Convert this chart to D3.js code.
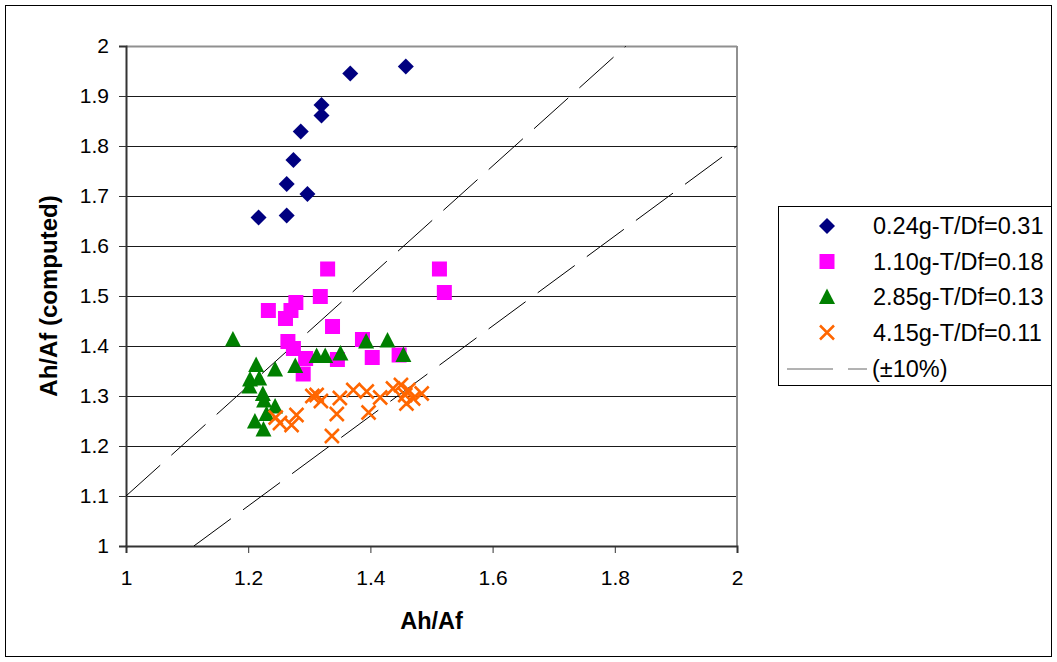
<!DOCTYPE html>
<html>
<head>
<meta charset="utf-8">
<script src="https://cdn.jsdelivr.net/npm/d3@7/dist/d3.min.js"></script>
<style>
  html, body { margin: 0; padding: 0; background: #fff; }
  svg { display: block; font-family: Arial, "Liberation Sans", sans-serif; }
</style>
</head>
<body>
<svg id="chart" width="1057" height="662"></svg>
<script>
// ---------------- data ----------------
const seriesNames = ["0.24g-T/Df=0.31", "1.10g-T/Df=0.18", "2.85g-T/Df=0.13", "4.15g-T/Df=0.11"];
const boundName = "(±10%)";

const s1x = [1.217, 1.263, 1.263, 1.274, 1.286, 1.297, 1.320, 1.320, 1.367, 1.458];
const s1y = [1.657, 1.661, 1.724, 1.772, 1.829, 1.704, 1.861, 1.882, 1.945, 1.959];

const s2x = [1.330, 1.513, 1.521, 1.318, 1.233, 1.278, 1.270, 1.261, 1.338, 1.265, 1.274, 1.294, 1.290, 1.346, 1.387, 1.403, 1.447];
const s2y = [1.554, 1.554, 1.507, 1.499, 1.471, 1.487, 1.471, 1.455, 1.439, 1.409, 1.395, 1.375, 1.344, 1.373, 1.413, 1.377, 1.382];

const s3x = [1.175, 1.213, 1.244, 1.277, 1.203, 1.218, 1.202, 1.224, 1.226, 1.244, 1.230, 1.211, 1.225, 1.312, 1.326, 1.351, 1.393, 1.428, 1.454];
const s3y = [1.413, 1.362, 1.353, 1.360, 1.333, 1.335, 1.319, 1.304, 1.291, 1.279, 1.264, 1.249, 1.233, 1.380, 1.380, 1.385, 1.409, 1.411, 1.382];

const s4x = [1.245, 1.252, 1.279, 1.271, 1.305, 1.312, 1.319, 1.337, 1.345, 1.350, 1.372, 1.394, 1.397, 1.416, 1.437, 1.450, 1.462, 1.459, 1.457, 1.470, 1.484];
const s4y = [1.257, 1.246, 1.262, 1.242, 1.300, 1.302, 1.290, 1.220, 1.264, 1.296, 1.312, 1.309, 1.267, 1.297, 1.315, 1.322, 1.312, 1.285, 1.302, 1.295, 1.305];

const boundFactors = [1.1, 0.9];
const xTicks = [1, 1.2, 1.4, 1.6, 1.8, 2];
const yTicks = [1, 1.1, 1.2, 1.3, 1.4, 1.5, 1.6, 1.7, 1.8, 1.9, 2];

// ---------------- layout ----------------
const svg = d3.select("#chart");
const plot = { left: 126, top: 46, right: 737, bottom: 546 };

const x = d3.scaleLinear().domain([1, 2]).range([plot.left, plot.right]);
const y = d3.scaleLinear().domain([1, 2]).range([plot.bottom, plot.top]);

// outer chart border
svg.append("rect").attr("x", 5.5).attr("y", 5.5).attr("width", 1046).attr("height", 651)
  .attr("fill", "#fff").attr("stroke", "#000").attr("stroke-width", 1);

// gridlines
svg.append("g").selectAll("line").data(yTicks.slice(1, -1)).join("line")
  .attr("x1", plot.left).attr("x2", plot.right)
  .attr("y1", d => Math.round(y(d)) + 0.5).attr("y2", d => Math.round(y(d)) + 0.5)
  .attr("stroke", "#1a1a1a").attr("stroke-width", 1);

// plot border (top/right gray)
svg.append("line").attr("x1", plot.left).attr("x2", plot.right).attr("y1", plot.top + 0.5).attr("y2", plot.top + 0.5)
  .attr("stroke", "#909090").attr("stroke-width", 2);
svg.append("line").attr("x1", plot.right).attr("x2", plot.right).attr("y1", plot.top).attr("y2", plot.bottom)
  .attr("stroke", "#909090").attr("stroke-width", 2);

// axes
const yAxis = d3.axisLeft(y).tickValues(yTicks).tickSize(7).tickPadding(10).tickFormat(d3.format("~g"));
const xAxis = d3.axisBottom(x).tickValues(xTicks).tickSize(7).tickPadding(17).tickFormat(d3.format("~g"));

const gy = svg.append("g").attr("transform", `translate(${plot.left},0)`).call(yAxis);
const gx = svg.append("g").attr("transform", `translate(0,${plot.bottom})`).call(xAxis);
[gx, gy].forEach(g => {
  g.select(".domain").attr("stroke", "#333").attr("stroke-width", 2);
  g.selectAll(".tick line").attr("stroke", "#333").attr("stroke-width", 1);
  g.selectAll(".tick text").attr("fill", "#000").style("font-size", "21px")
    .style("font-family", "Arial, 'Liberation Sans', sans-serif");
});

// axis titles
svg.append("text").attr("x", (plot.left + plot.right) / 2).attr("y", 629)
  .attr("text-anchor", "middle").style("font-size", "23.5px").style("font-weight", "bold").text("Ah/Af");
svg.append("text").attr("transform", `translate(57,${(plot.top + plot.bottom) / 2}) rotate(-90)`)
  .attr("text-anchor", "middle").style("font-size", "24px").style("font-weight", "bold").text("Ah/Af (computed)");

// ±10% dashed lines (start where each line enters the plot)
svg.append("clipPath").attr("id", "clip").append("rect")
  .attr("x", plot.left).attr("y", plot.top).attr("width", plot.right - plot.left).attr("height", plot.bottom - plot.top);
const lineGen = d3.line().x(d => x(d[0])).y(d => y(d[1]));
function boundSegment(f) {
  const x0 = Math.max(1, 1 / f), x1 = Math.min(2, 2 / f);
  return [[x0, x0 * f], [x1, x1 * f]];
}
svg.append("g").attr("clip-path", "url(#clip)").selectAll("path").data(boundFactors).join("path")
  .attr("d", f => lineGen(boundSegment(f)))
  .attr("fill", "none").attr("stroke", "#000").attr("stroke-width", 1)
  .attr("stroke-dasharray", "46,15");

// markers
const series = [
  { name: seriesNames[0], xs: s1x, ys: s1y, color: "#000080", shape: "diamond" },
  { name: seriesNames[1], xs: s2x, ys: s2y, color: "#FF00FF", shape: "square" },
  { name: seriesNames[2], xs: s3x, ys: s3y, color: "#008000", shape: "triangle" },
  { name: seriesNames[3], xs: s4x, ys: s4y, color: "#FF6600", shape: "x" }
];

function drawMarker(g, shape, color) {
  if (shape === "diamond") {
    g.append("path").attr("d", "M0,-8L8,0L0,8L-8,0Z").attr("fill", color);
  } else if (shape === "square") {
    g.append("rect").attr("x", -7.5).attr("y", -7.5).attr("width", 15).attr("height", 15).attr("fill", color);
  } else if (shape === "triangle") {
    g.append("path").attr("d", "M0,-8.5L8,7L-8,7Z").attr("fill", color);
  } else {
    g.append("path").attr("d", "M-7,-7L7,7M-7,7L7,-7").attr("stroke", color).attr("stroke-width", 2.5).attr("fill", "none");
  }
}

series.forEach(s => {
  const pts = s.xs.map((v, i) => [v, s.ys[i]]);
  const g = svg.append("g");
  g.selectAll("g").data(pts).join("g")
    .attr("transform", d => `translate(${x(d[0])},${y(d[1])})`)
    .each(function () { drawMarker(d3.select(this), s.shape, s.color); });
});

// legend
const lg = svg.append("g");
lg.append("rect").attr("x", 778.5).attr("y", 206.5).attr("width", 273).attr("height", 179)
  .attr("fill", "#fff").attr("stroke", "#000").attr("stroke-width", 1);
const rowY = [226, 261.5, 297, 332.5, 369];
series.forEach((s, i) => {
  const g = lg.append("g").attr("transform", `translate(827,${rowY[i]})`);
  drawMarker(g, s.shape, s.color);
  lg.append("text").attr("x", 873).attr("y", rowY[i]).attr("dy", "0.35em")
    .style("font-size", "23.5px").text(s.name);
});
lg.append("line").attr("x1", 787).attr("x2", 867).attr("y1", rowY[4]).attr("y2", rowY[4])
  .attr("stroke", "#666").attr("stroke-width", 1).attr("stroke-dasharray", "46,15");
lg.append("text").attr("x", 872).attr("y", rowY[4]).attr("dy", "0.35em")
  .style("font-size", "23.5px").text(boundName);
</script>
</body>
</html>
